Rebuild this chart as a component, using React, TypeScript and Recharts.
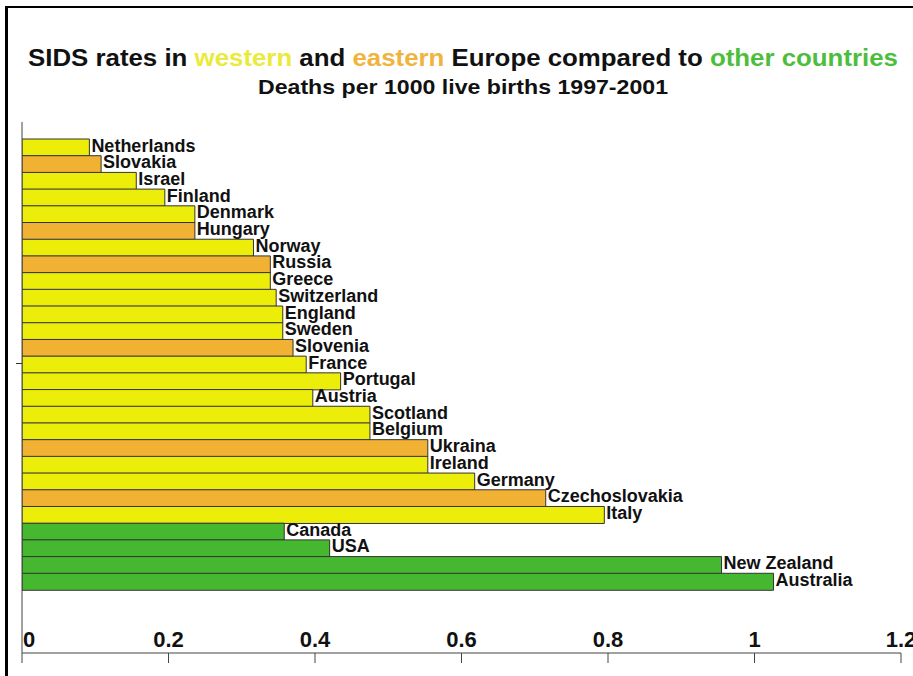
import React from 'react';
import { BarChart, Bar, XAxis, YAxis, Cell, LabelList } from 'recharts';

// SIDS deaths per 1000 live births, 1997-2001
const countries = [
  'Netherlands', 'Slovakia', 'Israel', 'Finland', 'Denmark', 'Hungary', 'Norway',
  'Russia', 'Greece', 'Switzerland', 'England', 'Sweden', 'Slovenia', 'France',
  'Portugal', 'Austria', 'Scotland', 'Belgium', 'Ukraina', 'Ireland', 'Germany',
  'Czechoslovakia', 'Italy', 'Canada', 'USA', 'New Zealand', 'Australia',
];
const rates = [
  0.092, 0.108, 0.156, 0.195, 0.236, 0.236, 0.316,
  0.339, 0.339, 0.347, 0.356, 0.356, 0.37, 0.388,
  0.435, 0.397, 0.475, 0.475, 0.554, 0.554, 0.618,
  0.715, 0.795, 0.358, 0.42, 0.955, 1.026,
];
const regions = [
  'west', 'east', 'west', 'west', 'west', 'east', 'west',
  'east', 'west', 'west', 'west', 'west', 'east', 'west',
  'west', 'west', 'west', 'west', 'east', 'west', 'west',
  'east', 'west', 'other', 'other', 'other', 'other',
];
const xTicks = [0, 0.2, 0.4, 0.6, 0.8, 1, 1.2];

const regionColors: Record<string, string> = {
  west: '#EDED0A',
  east: '#F1B234',
  other: '#45B82F',
};

const data = countries.map((name, i) => ({ name, rate: rates[i], region: regions[i] }));

const FONT = '"Liberation Sans", Arial, sans-serif';

const AxisTick = (props: any) => {
  const { x, y, payload } = props;
  const v = payload.value;
  const first = v === 0;
  return (
    <text
      x={first ? x + 1 : x}
      y={y - 16}
      textAnchor={first ? 'start' : 'middle'}
      fontFamily={FONT}
      fontWeight="bold"
      fontSize={22}
      fill="#111"
    >
      {String(v)}
    </text>
  );
};

const CountryLabel = (props: any) => {
  const { x, y, width, height, value } = props;
  return (
    <text
      x={Number(x) + Number(width) + 2}
      y={Number(y) + Number(height) / 2 + 4}
      fontFamily={FONT}
      fontWeight="bold"
      fontSize={18}
      fill="#111"
    >
      {value}
    </text>
  );
};

export default function App() {
  return (
    <div style={{ position: 'absolute', left: 0, top: 0, width: 913, height: 676, background: '#fff', overflow: 'hidden' }}>
      {/* frame */}
      <div
        style={{
          position: 'absolute', left: 5, top: 6, width: 908, height: 670, boxSizing: 'border-box',
          borderTop: '2.5px solid #000', borderLeft: '3px solid #000',
        }}
      />
      <div style={{ position: 'absolute', left: 16, top: 363, width: 6, height: 1, background: '#333' }} />
      <svg width={913} height={110} style={{ position: 'absolute', left: 0, top: 0 }}>
        <text x={28} y={66} textLength={870} lengthAdjust="spacingAndGlyphs" fontFamily={FONT} fontWeight="bold" fontSize={23} fill="#111">
          SIDS rates in <tspan fill="#EAEA3A">western</tspan> and <tspan fill="#F0B43E">eastern</tspan> Europe compared to{' '}
          <tspan fill="#4DBE3C">other countries</tspan>
        </text>
        <text x={258} y={94} textLength={410} lengthAdjust="spacingAndGlyphs" fontFamily={FONT} fontWeight="bold" fontSize={21} fill="#111">
          Deaths per 1000 live births 1997-2001
        </text>
      </svg>
      <div style={{ position: 'absolute', left: 0, top: 0 }}>
        <BarChart
          width={913}
          height={676}
          data={data}
          layout="vertical"
          barCategoryGap={0}
          margin={{ top: 122, right: 12, bottom: 10, left: 0 }}
        >
          <XAxis
            type="number"
            domain={[0, 1.2]}
            ticks={xTicks}
            height={13}
            tickSize={10}
            tickMargin={0}
            tick={<AxisTick />}
            axisLine={{ stroke: '#444' }}
            tickLine={{ stroke: '#444' }}
            allowDataOverflow
          />
          <YAxis
            type="category"
            dataKey="name"
            width={22}
            tick={false}
            tickLine={false}
            axisLine={{ stroke: '#444' }}
            padding={{ top: 17, bottom: 63 }}
          />
          <Bar dataKey="rate" stroke="#333" strokeWidth={1} isAnimationActive={false}>
            {data.map((d, i) => (
              <Cell key={`c-${i}`} fill={regionColors[d.region]} />
            ))}
            <LabelList dataKey="name" content={<CountryLabel />} />
          </Bar>
        </BarChart>
      </div>
    </div>
  );
}
